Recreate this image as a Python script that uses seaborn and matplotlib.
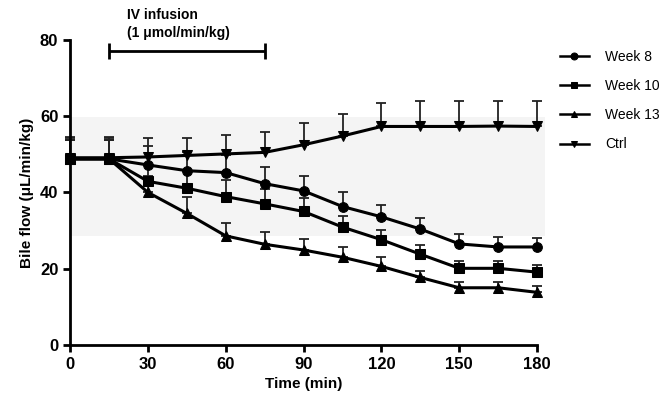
import seaborn as sns
import pandas as pd
import numpy as np
import matplotlib.pyplot as plt

# time points (min)
time = [0, 15, 30, 45, 60, 75, 90, 105, 120, 135, 150, 165, 180]

week8 = [48.8, 48.8, 47.2, 45.7, 45.2, 42.3, 40.4, 36.3, 33.6, 30.4, 26.5, 25.7, 25.7]
week8_err = [5.5, 5.5, 5.0, 4.8, 4.6, 4.5, 4.0, 3.7, 3.1, 3.0, 2.6, 2.5, 2.3]
week10 = [48.8, 48.8, 42.9, 41.1, 38.9, 37.0, 35.0, 30.9, 27.6, 23.8, 20.1, 20.1, 19.1]
week10_err = [5.0, 5.0, 4.2, 4.5, 4.4, 4.0, 3.5, 3.0, 2.6, 2.4, 1.9, 1.8, 1.9]
week13 = [48.8, 48.8, 40.0, 34.5, 28.6, 26.4, 24.9, 23.0, 20.6, 17.7, 15.0, 15.0, 13.8]
week13_err = [5.0, 5.0, 4.4, 4.2, 3.3, 3.3, 2.9, 2.8, 2.4, 1.8, 1.6, 1.5, 1.7]
ctrl = [49.1, 49.1, 49.3, 49.7, 50.1, 50.5, 52.5, 54.8, 57.3, 57.3, 57.3, 57.4, 57.3]
ctrl_err = [5.5, 5.5, 5.0, 4.6, 5.0, 5.4, 5.8, 5.8, 6.2, 6.6, 6.6, 6.5, 6.6]

groups = ['Week 8', 'Week 10', 'Week 13', 'Ctrl']
markers = ['o', 's', '^', 'v']
normal_band = (28.6, 59.8)

series = {'Week 8': (week8, week8_err), 'Week 10': (week10, week10_err),
          'Week 13': (week13, week13_err), 'Ctrl': (ctrl, ctrl_err)}

rows = []
for g in groups:
    vals, errs = series[g]
    for t, v, e in zip(time, vals, errs):
        rows.append({'Time': t, 'Flow': v, 'Err': e, 'Group': g})
df = pd.DataFrame(rows)

plt.rcParams['font.family'] = ['Liberation Sans', 'DejaVu Sans']

fig = plt.figure(figsize=(6.68, 4.03), dpi=100)
ax = fig.add_axes([0.105, 0.144, 0.699, 0.757])

# normal range band
ax.fill_between([0, 183], normal_band[0], normal_band[1], color='#f4f4f4', zorder=0, lw=0, clip_on=False)

# upward-only error bars
for g in groups:
    sub = df[df['Group'] == g]
    eb = ax.errorbar(sub['Time'], sub['Flow'], yerr=[np.zeros(len(sub)), sub['Err']],
                     fmt='none', ecolor='#222222', elinewidth=1.3, capsize=3.5, capthick=1.3, zorder=2)
    for art in eb.lines[1] + eb.lines[2]:
        art.set_clip_on(False)

sns.lineplot(data=df, x='Time', y='Flow', hue='Group', style='Group',
             hue_order=groups, style_order=groups, markers=markers, dashes=False,
             palette=['black'] * 4, markersize=7, linewidth=2.2,
             markeredgecolor='black', ax=ax, legend=True, zorder=3)
for ln in ax.lines:
    ln.set_clip_on(False)

ax.set_xlim(0, 180)
ax.set_ylim(0, 80)
ax.set_xticks([0, 30, 60, 90, 120, 150, 180])
ax.set_yticks([0, 20, 40, 60, 80])
ax.set_xlabel('Time (min)', fontsize=11, fontweight='bold')
ax.set_ylabel('Bile flow (μL/min/kg)', fontsize=11, fontweight='bold')
for lab in ax.get_xticklabels() + ax.get_yticklabels():
    lab.set_fontweight('bold')
    lab.set_fontsize(12)
ax.tick_params(width=2, length=5, direction='out')
for s in ['top', 'right']:
    ax.spines[s].set_visible(False)
for s in ['left', 'bottom']:
    ax.spines[s].set_linewidth(2)
ax.margins(0)

# infusion bar
ax.errorbar([45], [77], xerr=[[30], [30]], fmt='none', ecolor='black', elinewidth=2,
            capsize=6, capthick=2, clip_on=False)
ax.text(22, 86.4, 'IV infusion', fontsize=10, fontweight='bold',
        ha='left', va='center', clip_on=False)
ax.text(22, 81.7, '(1 μmol/min/kg)', fontsize=10, fontweight='bold',
        ha='left', va='center', clip_on=False)

handles, labels = ax.get_legend_handles_labels()
ax.get_legend().remove()
leg = fig.legend(handles, labels, loc='upper left', bbox_to_anchor=(0.838, 0.877),
                 frameon=False, fontsize=10, handlelength=2.1, handletextpad=1.15,
                 labelspacing=1.1, borderpad=0, borderaxespad=0)
for h in leg.legend_handles:
    h.set_markersize(5)
    h.set_linewidth(1.8)

fig.savefig('out.png', dpi=100)
